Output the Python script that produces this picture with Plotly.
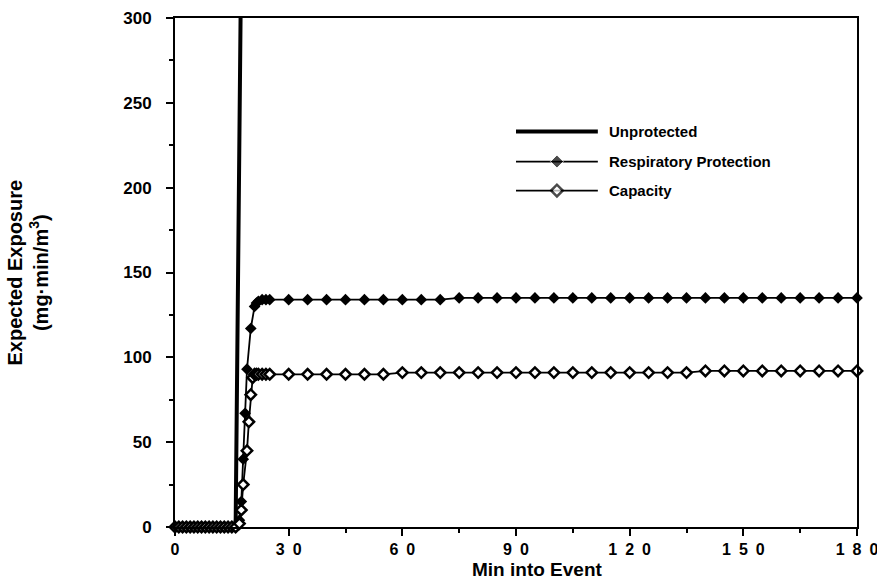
import plotly.graph_objects as go

# Exposure model output: minutes into the event vs. expected exposure (mg·min/m3)
unprot_t = [0, 2, 4, 6, 8, 10, 12, 14, 16, 17, 18]
unprot_v = [0, 0, 0, 0, 0, 0, 0, 0, 0, 230, 460]

resp_t = [0, 1, 2, 3, 4, 5, 6, 7, 8, 9, 10, 11, 12, 13, 14, 15, 16, 17, 17.5, 18, 18.5, 19, 20, 21, 21.5, 22, 23, 24,
          25, 30, 35, 40, 45, 50, 55, 60, 65, 70, 75, 80, 85, 90, 95, 100, 105, 110, 115, 120, 125, 130, 135,
          140, 145, 150, 155, 160, 165, 170, 175, 180]
resp_v = [0, 0, 0, 0, 0, 0, 0, 0, 0, 0, 0, 0, 0, 0, 0, 0, 1, 4, 15, 40, 67, 93, 117, 130, 132, 133, 134, 134,
          134, 134, 134, 134, 134, 134, 134, 134, 134, 134, 135, 135, 135, 135, 135, 135, 135, 135, 135, 135, 135, 135, 135,
          135, 135, 135, 135, 135, 135, 135, 135, 135]

cap_t = [0, 1, 2, 3, 4, 5, 6, 7, 8, 9, 10, 11, 12, 13, 14, 15, 16, 17, 17.5, 18, 19, 19.5, 20, 20.5, 21, 21.5, 22, 23, 24,
         25, 30, 35, 40, 45, 50, 55, 60, 65, 70, 75, 80, 85, 90, 95, 100, 105, 110, 115, 120, 125, 130, 135,
         140, 145, 150, 155, 160, 165, 170, 175, 180]
cap_v = [0, 0, 0, 0, 0, 0, 0, 0, 0, 0, 0, 0, 0, 0, 0, 0, 0, 2, 10, 25, 45, 62, 78, 88, 90, 90, 90, 90, 90,
         90, 90, 90, 90, 90, 90, 90, 91, 91, 91, 91, 91, 91, 91, 91, 91, 91, 91, 91, 91, 91, 91, 91,
         92, 92, 92, 92, 92, 92, 92, 92, 92]

SP = "\u2002"  # en space between digits of the x tick labels
x_ticks = [0, 30, 60, 90, 120, 150, 180]
x_tick_text = ["0", SP.join("30"), SP.join("60"), SP.join("90"),
               SP.join("120"), SP.join("150"), SP.join("180")]
y_ticks = [0, 50, 100, 150, 200, 250, 300]

series_names = ["Unprotected", "Respiratory Protection", "Capacity"]

FONT = "Liberation Sans, Arial, sans-serif"

fig = go.Figure()

fig.add_trace(go.Scatter(x=unprot_t, y=unprot_v, mode="lines", name=series_names[0],
                         line=dict(color="black", width=4), showlegend=False))
fig.add_trace(go.Scatter(x=resp_t, y=resp_v, mode="lines+markers", name=series_names[1],
                         line=dict(color="black", width=1.8), cliponaxis=False,
                         marker=dict(symbol="diamond", size=9, color="black"), showlegend=False))
fig.add_trace(go.Scatter(x=cap_t, y=cap_v, mode="lines+markers", name=series_names[2],
                         line=dict(color="black", width=1.8), cliponaxis=False,
                         marker=dict(symbol="diamond", size=8, color="white",
                                     line=dict(color="black", width=2.5)), showlegend=False))

# Hand-drawn legend on an overlay axis spanning [0, 1] in both directions
leg_rows = [0.777, 0.718, 0.661]
leg_x0, leg_x1, leg_xm = 0.5, 0.62, 0.56
fig.add_trace(go.Scatter(x=[leg_x0, leg_x1], y=[leg_rows[0]] * 2, mode="lines",
                         line=dict(color="black", width=4), xaxis="x2", yaxis="y2",
                         showlegend=False, hoverinfo="skip"))
fig.add_trace(go.Scatter(x=[leg_x0, leg_xm, leg_x1], y=[leg_rows[1]] * 3, mode="lines+markers",
                         line=dict(color="black", width=1.8),
                         marker=dict(symbol="diamond", size=[0, 10, 0], color="black"),
                         xaxis="x2", yaxis="y2", showlegend=False, hoverinfo="skip"))
fig.add_trace(go.Scatter(x=[leg_x0, leg_xm, leg_x1], y=[leg_rows[2]] * 3, mode="lines+markers",
                         line=dict(color="black", width=1.8),
                         marker=dict(symbol="diamond", size=[0, 9, 0], color="white",
                                     line=dict(color="black", width=2.5)),
                         xaxis="x2", yaxis="y2", showlegend=False, hoverinfo="skip"))
for name, yy in zip(series_names, leg_rows):
    fig.add_annotation(x=0.634, y=yy, xref="paper", yref="paper", text=name, showarrow=False,
                       xanchor="left", yanchor="middle",
                       font=dict(family=FONT, size=15, color="black", weight="bold"))

# Two-line y-axis title
fig.add_annotation(x=-0.217, y=0.5, xref="paper", yref="paper",
                   text="<b>Expected Exposure<br>(mg·min/m<sup>3</sup>)</b>",
                   textangle=-90, showarrow=False, xanchor="center", yanchor="middle",
                   font=dict(family=FONT, size=20, color="black"))

# x-axis title
fig.add_annotation(x=0.531, y=-0.083, xref="paper", yref="paper",
                   text="<b>Min into Event</b>", showarrow=False,
                   xanchor="center", yanchor="middle",
                   font=dict(family=FONT, size=19, color="black"))

fig.update_layout(
    width=877, height=583,
    margin=dict(l=175, r=20, t=18, b=56),
    paper_bgcolor="white", plot_bgcolor="white",
    font=dict(family=FONT, color="black"),
    xaxis=dict(range=[0, 180], tickvals=x_ticks, ticktext=x_tick_text,
               ticks="outside", ticklen=7, tickwidth=2, tickcolor="black",
               minor=dict(dtick=15, ticks="outside", ticklen=4, tickwidth=1.5, tickcolor="black"),
               showline=True, linecolor="black", linewidth=2, mirror=True,
               showgrid=False, zeroline=False, automargin=False,
               ticklabeloverflow="allow",
               tickfont=dict(family=FONT, size=16, color="black", weight="bold")),
    yaxis=dict(range=[0, 300], tickvals=y_ticks,
               ticks="outside", ticklen=7, tickwidth=2, tickcolor="black",
               minor=dict(dtick=25, ticks="outside", ticklen=4, tickwidth=1.5, tickcolor="black"),
               showline=True, linecolor="black", linewidth=2, mirror=True,
               showgrid=False, zeroline=False, automargin=False,
               ticklabelstandoff=11,
               tickfont=dict(family=FONT, size=17, color="black", weight="bold")),
    xaxis2=dict(range=[0, 1], overlaying="x", visible=False),
    yaxis2=dict(range=[0, 1], overlaying="y", visible=False),
)

fig.write_html("out.html")
